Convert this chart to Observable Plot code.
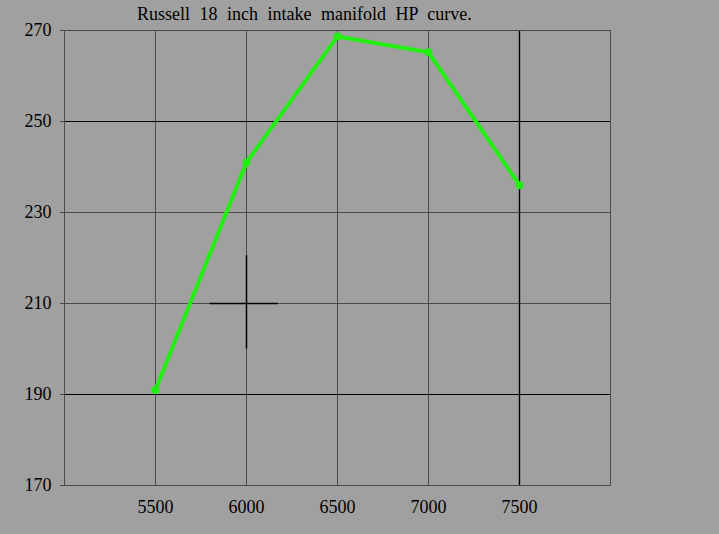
<!DOCTYPE html>
<html>
<head>
<meta charset="utf-8">
<script src="https://cdn.jsdelivr.net/npm/d3@7"></script>
<script src="https://cdn.jsdelivr.net/npm/@observablehq/plot@0.6"></script>
<style>
  html, body { margin: 0; padding: 0; background: #a0a0a0; }
  #wrap { position: relative; width: 719px; height: 534px; overflow: hidden; }
  #title { position: absolute; left: 137px; top: 4px; font-family: "Liberation Serif", serif; font-size: 18px; word-spacing: 5px; color: #000; white-space: nowrap; }
</style>
</head>
<body>
<div id="wrap">
  <div id="chart"></div>
  <div id="title">Russell 18 inch intake manifold HP curve.</div>
</div>
<script>
const rpm = [5500, 6000, 6500, 7000, 7500];
const hp = [191, 241, 268.7, 265.2, 236];
const xTicks = [5500, 6000, 6500, 7000, 7500];
const yTicks = [170, 190, 210, 230, 250, 270];
const darkY = [190, 250];
const darkX = [7500];
const crossV = [{x: 6000, y1: 200, y2: 220.5}];
const crossH = [{y: 210, x1: 5800, x2: 6175}];

const data = rpm.map((r, i) => ({rpm: r, hp: hp[i]}));
const font = '"Liberation Serif", serif';

const chart = Plot.plot({
  width: 719,
  height: 534,
  marginLeft: 64,
  marginRight: 109,
  marginTop: 30,
  marginBottom: 49,
  style: {background: "#a0a0a0", fontFamily: font, fontSize: "18px", color: "#000"},
  x: {domain: [5000, 8000], ticks: xTicks, tickSize: 0, tickPadding: 15, label: null, tickFormat: d => String(d)},
  y: {domain: [170, 270], ticks: yTicks, tickSize: 4, tickPadding: 10, label: null},
  marks: [
    Plot.ruleX(xTicks, {stroke: "#4a4a4a", strokeWidth: 1}),
    Plot.ruleY(yTicks, {stroke: "#4a4a4a", strokeWidth: 1}),
    Plot.ruleY(darkY, {stroke: "#000", strokeWidth: 1.2}),
    Plot.ruleX(darkX, {stroke: "#000", strokeWidth: 1.4}),
    Plot.ruleX(crossV, {x: "x", y1: "y1", y2: "y2", stroke: "#000", strokeWidth: 1.5}),
    Plot.ruleY(crossH, {y: "y", x1: "x1", x2: "x2", stroke: "#000", strokeWidth: 1.5}),
    Plot.frame({stroke: "#4a4a4a", strokeWidth: 1}),
    Plot.axisY({ticks: yTicks, tickSize: 4, tickPadding: 9, fontSize: 18, fontFamily: font, stroke: "#4a4a4a"}),
    Plot.axisX({ticks: xTicks, tickSize: 0, tickPadding: 15, fontSize: 18, fontFamily: font, tickFormat: d => String(d)}),
    Plot.line(data, {x: "rpm", y: "hp", stroke: "#22ee11", strokeWidth: 4}),
    Plot.dot(data, {x: "rpm", y: "hp", r: 4, fill: "#22ee11"})
  ]
});
document.getElementById("chart").appendChild(chart);
</script>
</body>
</html>
